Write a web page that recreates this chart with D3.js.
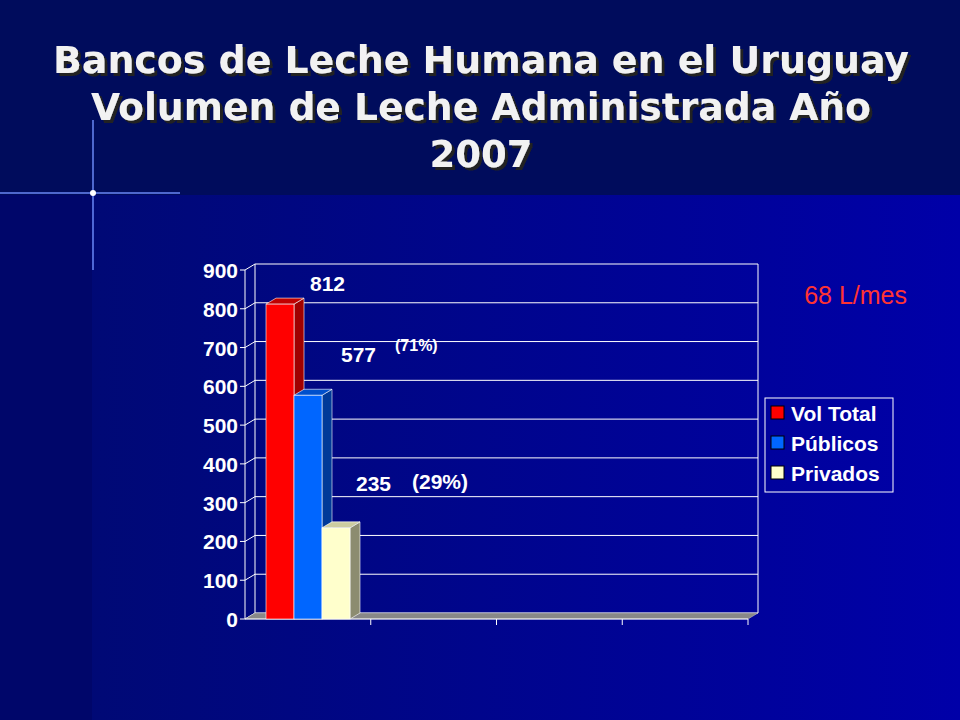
<!DOCTYPE html>
<html><head><meta charset="utf-8">
<script src="https://cdn.jsdelivr.net/npm/d3@7"></script>
<style>body{margin:0;background:#000;}svg{display:block}</style>
</head><body>
<script>
const categories = ["2007", "", "", ""];
const seriesNames = ["Vol Total", "Públicos", "Privados"];
const seriesValues = [[812], [577], [235]];
const seriesColors = [["#ff0000","#a00000","#c00000"],["#0066ff","#003a99","#0050cc"],["#ffffcc","#8c8c70","#cccca0"]];
const yTicks = [0,100,200,300,400,500,600,700,800,900];

const W=960,H=720;
const svg=d3.select("body").append("svg").attr("width",W).attr("height",H);
const defs=svg.append("defs");
const g1=defs.append("linearGradient").attr("id","bg").attr("x1",0).attr("y1",0).attr("x2",1).attr("y2",0);
g1.append("stop").attr("offset",0).attr("stop-color","#000a70");
g1.append("stop").attr("offset",1).attr("stop-color","#0000a8");
const f=defs.append("filter").attr("id","sh");
f.append("feDropShadow").attr("dx",3).attr("dy",3).attr("stdDeviation",0.5).attr("flood-color","#222").attr("flood-opacity",1);
svg.append("rect").attr("width",W).attr("height",H).attr("fill","url(#bg)");
svg.append("rect").attr("width",92).attr("y",195).attr("height",H-195).attr("fill","#00066a");
svg.append("rect").attr("width",W).attr("height",195).attr("fill","#000c5c");
svg.append("line").attr("x1",0).attr("x2",180).attr("y1",193).attr("y2",193).attr("stroke","#6f8fff").attr("stroke-width",2).attr("opacity",0.7);
svg.append("line").attr("x1",93).attr("x2",93).attr("y1",120).attr("y2",270).attr("stroke","#6f8fff").attr("stroke-width",2).attr("opacity",0.7);
svg.append("circle").attr("cx",93).attr("cy",193).attr("r",3).attr("fill","#fff");

const title=["Bancos de Leche Humana en el Uruguay","Volumen de Leche Administrada Año","2007"];
title.forEach((t,i)=>{
  svg.append("text").attr("x",481).attr("y",73+i*47).attr("text-anchor","middle")
   .attr("font-family","Verdana, DejaVu Sans, sans-serif").attr("font-weight","bold").attr("font-size",37)
   .attr("textLength",i==0?856:(i==1?780:null)).attr("lengthAdjust","spacingAndGlyphs")
   .attr("fill","#f2f2f2").attr("filter","url(#sh)").text(t);
});

const x0=245,x1=748,dx=10,dy=-6;
const y=d3.scaleLinear().domain([0,900]).range([619,270]);
const x=d3.scaleBand().domain(d3.range(categories.length)).range([x0,x1]);
const font="Arial, Liberation Sans, sans-serif";
yTicks.forEach(v=>{
  svg.append("line").attr("x1",x0+dx).attr("x2",x1+dx).attr("y1",y(v)+dy).attr("y2",y(v)+dy).attr("stroke","#fff");
  svg.append("line").attr("x1",x0).attr("x2",x0+dx).attr("y1",y(v)).attr("y2",y(v)+dy).attr("stroke","#fff");
});
svg.append("line").attr("x1",x1+dx).attr("x2",x1+dx).attr("y1",y(900)+dy).attr("y2",y(0)+dy).attr("stroke","#fff");
svg.append("line").attr("x1",x0+dx).attr("x2",x0+dx).attr("y1",y(900)+dy).attr("y2",y(0)+dy).attr("stroke","#fff");
svg.append("polygon").attr("points",[[x0,y(0)],[x0+dx,y(0)+dy],[x1+dx,y(0)+dy],[x1,y(0)]].join(" ")).attr("fill","#888").attr("stroke","#ccc").attr("stroke-width",0.5);
svg.append("line").attr("x1",x0).attr("x2",x0).attr("y1",y(0)).attr("y2",y(900)).attr("stroke","#fff");
svg.append("line").attr("x1",x0).attr("x2",x1).attr("y1",y(0)).attr("y2",y(0)).attr("stroke","#fff");
yTicks.forEach(v=>{
  svg.append("line").attr("x1",x0-5).attr("x2",x0).attr("y1",y(v)).attr("y2",y(v)).attr("stroke","#fff");
  svg.append("text").attr("x",x0-7).attr("y",y(v)+8).attr("text-anchor","end").attr("font-family",font).attr("font-weight","bold").attr("font-size",21).attr("fill","#fff").text(v);
});
categories.forEach((c,i)=>{
  const xx=x(i)+x.bandwidth();
  svg.append("line").attr("x1",xx).attr("x2",xx).attr("y1",y(0)).attr("y2",y(0)+6).attr("stroke","#fff");
});
const bw=28, start=x(0)+21;
seriesValues.forEach((vals,s)=>{
  vals.forEach((v,i)=>{
    const bx=start+s*bw, top=y(v), bot=y(0), col=seriesColors[s];
    svg.append("polygon").attr("points",[[bx+bw,top],[bx+bw+dx,top+dy],[bx+bw+dx,bot+dy],[bx+bw,bot]].join(" ")).attr("fill",col[1]).attr("stroke","#fff").attr("stroke-width",0.6);
    svg.append("polygon").attr("points",[[bx,top],[bx+dx,top+dy],[bx+bw+dx,top+dy],[bx+bw,top]].join(" ")).attr("fill",col[2]).attr("stroke","#fff").attr("stroke-width",0.6);
    svg.append("rect").attr("x",bx).attr("y",top).attr("width",bw).attr("height",bot-top).attr("fill",col[0]).attr("stroke","#fff").attr("stroke-width",0.6);
  });
});
const lab=(x,yy,t,fs)=>svg.append("text").attr("x",x).attr("y",yy).attr("font-family",font).attr("font-weight","bold").attr("font-size",fs).attr("fill","#fff").text(t);
lab(310,291,seriesValues[0][0],21);
lab(341,362,seriesValues[1][0],21);
lab(395,351,"(71%)",16);
lab(356,491,seriesValues[2][0],21);
lab(412,489,"(29%)",21);
svg.append("text").attr("x",907).attr("y",304).attr("text-anchor","end").attr("font-family",font).attr("font-size",25).attr("fill","#ff3333").text("68 L/mes");
const lg=svg.append("g");
lg.append("rect").attr("x",765).attr("y",398).attr("width",128).attr("height",94).attr("fill","none").attr("stroke","#fff");
seriesNames.forEach((n,i)=>{
  const yy=413+i*30;
  lg.append("rect").attr("x",771).attr("y",yy-7).attr("width",13).attr("height",13).attr("fill",seriesColors[i][0]).attr("stroke","#000");
  lg.append("text").attr("x",791).attr("y",yy+8).attr("font-family",font).attr("font-weight","bold").attr("font-size",21).attr("fill","#fff").text(n);
});
</script>
</body></html>
